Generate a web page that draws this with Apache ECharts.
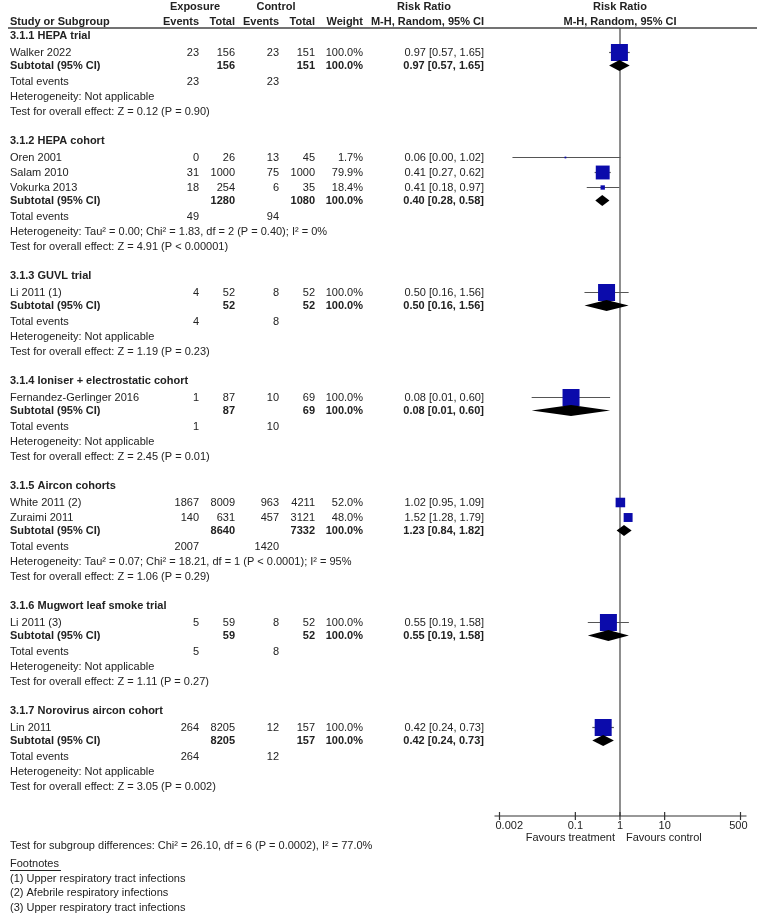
<!DOCTYPE html>
<html>
<head>
<meta charset="utf-8">
<script src="https://cdn.jsdelivr.net/npm/echarts@6/dist/echarts.min.js"></script>
<style>
html,body{margin:0;padding:0;background:#fff;}
#chart{width:757px;height:916px;}
</style>
</head>
<body>
<div id="chart"></div>
<script>
// ---------------- DATA ----------------
const groupNames = ['3.1.1 HEPA trial','3.1.2 HEPA cohort','3.1.3 GUVL trial','3.1.4 Ioniser + electrostatic cohort','3.1.5 Aircon cohorts','3.1.6 Mugwort leaf smoke trial','3.1.7 Norovirus aircon cohort'];
const studyNames = ['Walker 2022','Oren 2001','Salam 2010','Vokurka 2013','Li 2011 (1)','Fernandez-Gerlinger 2016','White 2011 (2)','Zuraimi 2011','Li 2011 (3)','Lin 2011'];
const studyGroup = [0,1,1,1,2,3,4,4,5,6];
const expEvents = [23,0,31,18,4,1,1867,140,5,264];
const expTotal  = [156,26,1000,254,52,87,8009,631,59,8205];
const ctlEvents = [23,13,75,6,8,10,963,457,8,12];
const ctlTotal  = [151,45,1000,35,52,69,4211,3121,52,157];
const weights   = [100,1.7,79.9,18.4,100,100,52.0,48.0,100,100];
const rr   = [0.97,0.06,0.41,0.41,0.50,0.08,1.02,1.52,0.55,0.42];
const rrLo = [0.57,0.0039,0.27,0.18,0.16,0.0105,0.95,1.28,0.19,0.24];
const rrHi = [1.65,1.02,0.62,0.97,1.56,0.60,1.09,1.79,1.58,0.73];

const subRR = [0.97,0.40,0.50,0.08,1.23,0.55,0.42];
const subLo = [0.57,0.28,0.16,0.0105,0.84,0.19,0.24];
const subHi = [1.65,0.58,1.56,0.60,1.82,1.58,0.73];
const subExpTotal = [156,1280,52,87,8640,59,8205];
const subCtlTotal = [151,1080,52,69,7332,52,157];
const totExpEvents = [23,49,4,1,2007,5,264];
const totCtlEvents = [23,94,8,10,1420,8,12];
const heterogeneity = ['Not applicable','Tau\u00B2 = 0.00; Chi\u00B2 = 1.83, df = 2 (P = 0.40); I\u00B2 = 0%','Not applicable','Not applicable','Tau\u00B2 = 0.07; Chi\u00B2 = 18.21, df = 1 (P < 0.0001); I\u00B2 = 95%','Not applicable','Not applicable'];
const overallEffect = ['Z = 0.12 (P = 0.90)','Z = 4.91 (P < 0.00001)','Z = 1.19 (P = 0.23)','Z = 2.45 (P = 0.01)','Z = 1.06 (P = 0.29)','Z = 1.11 (P = 0.27)','Z = 3.05 (P = 0.002)'];
const subgroupTest = 'Test for subgroup differences: Chi\u00B2 = 26.10, df = 6 (P = 0.0002), I\u00B2 = 77.0%';
const footnotes = ['(1) Upper respiratory tract infections','(2) Afebrile respiratory infections','(3) Upper respiratory tract infections'];
const xTicks = [0.002,0.1,1,10,500];
const xTickLabels = ['0.002','0.1','1','10','500'];
const favourLabels = ['Favours treatment','Favours control'];

// ---------------- LAYOUT ----------------
const FONT = 'Arial, "Liberation Sans", sans-serif';
const TXT = '#222';
const L = {first:36, hdrToStudy:16.5, studyToStudy:15, studyToSub:13, subToTot:16.5, totToHet:15, hetToTest:14.5, testToHdr:29.5};
const COL = {name:10, expEv:199, expTot:235, ctlEv:279, ctlTot:315, weight:363, rrText:484};
const PLOT = {top:28, bottom:816};

const rows = []; // {type, g, s, y}
let y = L.first;
groupNames.forEach((gn, g) => {
  rows.push({type:'hdr', g, y});
  const studies = studyGroup.map((sg,i)=>sg===g?i:-1).filter(i=>i>=0);
  studies.forEach((s, k) => {
    y += (k===0 ? L.hdrToStudy : L.studyToStudy);
    rows.push({type:'study', g, s, y});
  });
  y += L.studyToSub; rows.push({type:'sub', g, y});
  y += L.subToTot; rows.push({type:'tot', g, y});
  y += L.totToHet; rows.push({type:'het', g, y});
  y += L.hetToTest; rows.push({type:'test', g, y});
  y += L.testToHdr;
});

function txt(text, x, yy, align, bold, extra) {
  return Object.assign({
    type:'text', x:x, y:yy, silent:true,
    style:{text:String(text), fill:TXT, fontSize:11, fontFamily:FONT, fontWeight:bold?'bold':'normal',
      align:align||'left', verticalAlign:'middle', textAlign:align||'left', textVerticalAlign:'middle'}
  }, extra||{});
}
const fmt = v => v.toFixed(2);
const rrStr = (a,b,c) => fmt(a)+' ['+fmt(b)+', '+fmt(c)+']';

const graphics = [];
// headers
graphics.push(txt('Exposure', 195, 7, 'center', true));
graphics.push(txt('Control', 276, 7, 'center', true));
graphics.push(txt('Risk Ratio', 424, 7, 'center', true));
graphics.push(txt('Risk Ratio', 620, 7, 'center', true));
graphics.push(txt('Study or Subgroup', COL.name, 22, 'left', true));
graphics.push(txt('Events', COL.expEv, 22, 'right', true));
graphics.push(txt('Total', COL.expTot, 22, 'right', true));
graphics.push(txt('Events', COL.ctlEv, 22, 'right', true));
graphics.push(txt('Total', COL.ctlTot, 22, 'right', true));
graphics.push(txt('Weight', COL.weight, 22, 'right', true));
graphics.push(txt('M-H, Random, 95% CI', COL.rrText, 22, 'right', true));
graphics.push(txt('M-H, Random, 95% CI', 620, 22, 'center', true));
graphics.push({type:'line', silent:true, shape:{x1:8, y1:28, x2:757, y2:28}, style:{stroke:'#444', lineWidth:1.5}});

rows.forEach(r => {
  const g = r.g;
  if (r.type==='hdr') graphics.push(txt(groupNames[g], COL.name, r.y, 'left', true));
  if (r.type==='study') {
    const s = r.s;
    graphics.push(txt(studyNames[s], COL.name, r.y, 'left'));
    graphics.push(txt(expEvents[s], COL.expEv, r.y, 'right'));
    graphics.push(txt(expTotal[s], COL.expTot, r.y, 'right'));
    graphics.push(txt(ctlEvents[s], COL.ctlEv, r.y, 'right'));
    graphics.push(txt(ctlTotal[s], COL.ctlTot, r.y, 'right'));
    graphics.push(txt(weights[s].toFixed(1)+'%', COL.weight, r.y, 'right'));
    graphics.push(txt(rrStr(rr[s], rrLo[s], rrHi[s]), COL.rrText, r.y, 'right'));
  }
  if (r.type==='sub') {
    graphics.push(txt('Subtotal (95% CI)', COL.name, r.y, 'left', true));
    graphics.push(txt(subExpTotal[g], COL.expTot, r.y, 'right', true));
    graphics.push(txt(subCtlTotal[g], COL.ctlTot, r.y, 'right', true));
    graphics.push(txt('100.0%', COL.weight, r.y, 'right', true));
    graphics.push(txt(rrStr(subRR[g], subLo[g], subHi[g]), COL.rrText, r.y, 'right', true));
  }
  if (r.type==='tot') {
    graphics.push(txt('Total events', COL.name, r.y, 'left'));
    graphics.push(txt(totExpEvents[g], COL.expEv, r.y, 'right'));
    graphics.push(txt(totCtlEvents[g], COL.ctlEv, r.y, 'right'));
  }
  if (r.type==='het') graphics.push(txt('Heterogeneity: '+heterogeneity[g], COL.name, r.y, 'left'));
  if (r.type==='test') graphics.push(txt('Test for overall effect: '+overallEffect[g], COL.name, r.y, 'left'));
});

// footer
graphics.push(txt(subgroupTest, COL.name, 846, 'left'));
graphics.push(txt('Footnotes', COL.name, 864, 'left'));
graphics.push({type:'line', silent:true, shape:{x1:10, y1:870.5, x2:61, y2:870.5}, style:{stroke:TXT, lineWidth:1}});
footnotes.forEach((f,i)=>graphics.push(txt(f, COL.name, 879 + i*14.3, 'left')));
graphics.push(txt(favourLabels[0], 615, 838, 'right'));
graphics.push(txt(favourLabels[1], 626, 838, 'left'));

// ---------------- SERIES DATA ----------------
const studyRows = rows.filter(r=>r.type==='study');
const subRows = rows.filter(r=>r.type==='sub');
const ciData = studyRows.map(r=>[rrLo[r.s], rrHi[r.s], r.y]);
const sqData = studyRows.map(r=>[rr[r.s], r.y, weights[r.s]]);
const dmData = subRows.map(r=>[subRR[r.g], subLo[r.g], subHi[r.g], r.y]);

const chart = echarts.init(document.getElementById('chart'), null, {renderer:'canvas'});
chart.setOption({
  animation:false,
  backgroundColor:'#fff',
  grid:{left:499.5, right:16.5, top:PLOT.top, bottom:916-PLOT.bottom, containLabel:false},
  xAxis:{type:'log', logBase:10, min:0.002, max:500, show:true,
    axisLine:{show:false}, axisTick:{show:false}, axisLabel:{show:false}, splitLine:{show:false}},
  yAxis:{type:'value', min:PLOT.top, max:PLOT.bottom, inverse:true, show:false, splitLine:{show:false}},
  graphic:graphics,
  series:[
    { // reference line at RR = 1
      type:'custom', clip:false, silent:true, z:2,
      data:[[1]],
      renderItem:(p, api)=>{
        const a = api.coord([api.value(0), PLOT.top]);
        const b = api.coord([api.value(0), PLOT.bottom]);
        return {type:'line', shape:{x1:a[0], y1:a[1], x2:b[0], y2:b[1]}, style:{stroke:'#444', lineWidth:1.2}};
      }
    },
    { // x axis line
      type:'custom', clip:false, silent:true, z:2,
      data:[[xTicks[0], xTicks[xTicks.length-1]]],
      renderItem:(p, api)=>{
        const a = api.coord([api.value(0), PLOT.bottom]);
        const b = api.coord([api.value(1), PLOT.bottom]);
        return {type:'line', shape:{x1:a[0]-5, y1:a[1], x2:b[0]+6, y2:b[1]}, style:{stroke:'#333', lineWidth:1.2}};
      }
    },
    { // ticks + labels
      type:'custom', clip:false, silent:true, z:2,
      data:xTicks.map((v,i)=>[v,i]),
      renderItem:(p, api)=>{
        const a = api.coord([api.value(0), PLOT.bottom]);
        const i = api.value(1);
        const last = xTicks.length-1;
        const align = i===0 ? 'left' : (i===last ? 'right' : 'center');
        const lx = i===0 ? a[0]-4 : (i===last ? a[0]+7 : a[0]);
        return {type:'group', children:[
          {type:'line', shape:{x1:a[0], y1:a[1]-4, x2:a[0], y2:a[1]+4}, style:{stroke:'#333', lineWidth:1.2}},
          {type:'text', x:lx, y:a[1]+10, style:{text:xTickLabels[i], fill:TXT, fontSize:11, fontFamily:FONT, align:align, verticalAlign:'middle'}}
        ]};
      }
    },
    { // confidence intervals
      type:'custom', clip:false, silent:true, z:3,
      data:ciData,
      renderItem:(p, api)=>{
        const a = api.coord([api.value(0), api.value(2)]);
        const b = api.coord([api.value(1), api.value(2)]);
        return {type:'line', shape:{x1:a[0], y1:a[1], x2:b[0], y2:b[1]}, style:{stroke:'#555', lineWidth:1.2}};
      }
    },
    { // squares
      type:'custom', clip:false, silent:true, z:4,
      data:sqData,
      renderItem:(p, api)=>{
        const c = api.coord([api.value(0), api.value(1)]);
        const s = 1.5 + 15.5*api.value(2)/100;
        return {type:'rect', shape:{x:c[0]-s/2, y:c[1]-s/2, width:s, height:s}, style:{fill:'#0b0bab'}};
      }
    },
    { // diamonds
      type:'custom', clip:false, silent:true, z:4,
      data:dmData,
      renderItem:(p, api)=>{
        const yy = api.value(3);
        const c = api.coord([api.value(0), yy]);
        const l = api.coord([api.value(1), yy]);
        const r = api.coord([api.value(2), yy]);
        const h = 5.5;
        return {type:'polygon', shape:{points:[[l[0],c[1]],[c[0],c[1]-h],[r[0],c[1]],[c[0],c[1]+h]]}, style:{fill:'#000'}};
      }
    }
  ]
});
</script>
</body>
</html>
